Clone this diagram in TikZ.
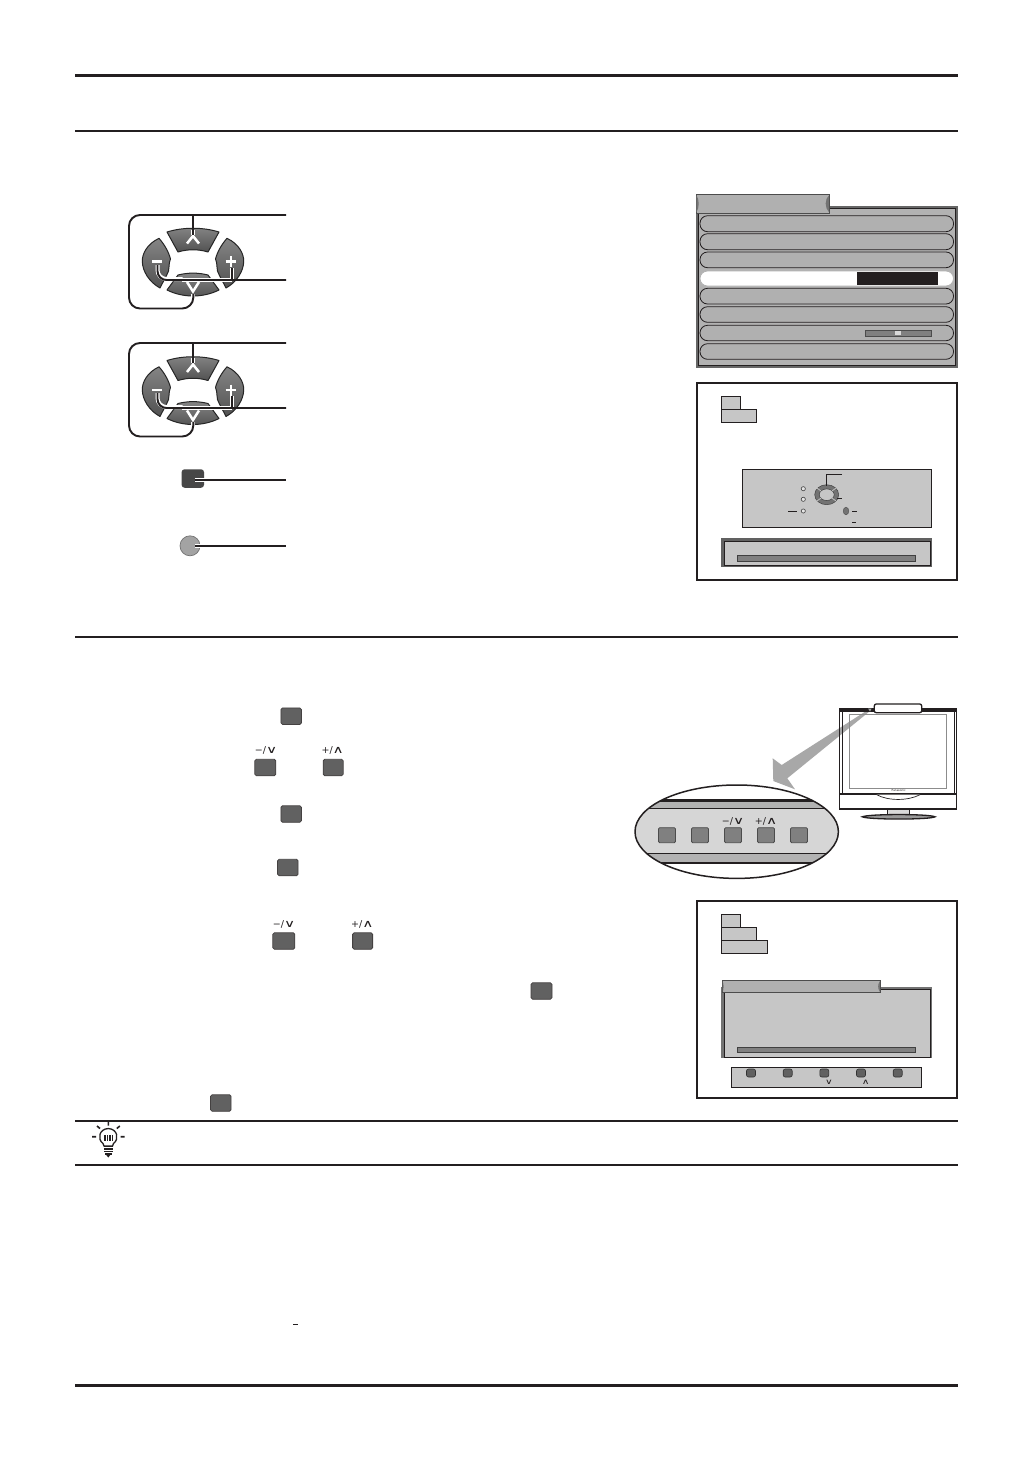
\documentclass[tikz,border=0pt]{standalone}
\usepackage{fontspec}
\usepackage{graphicx}
\setmainfont{DejaVu Sans}
\usetikzlibrary{calc}
\definecolor{inkk}{HTML}{231F20}
\definecolor{panelg}{HTML}{C6C6C6}
\definecolor{rowg}{HTML}{B0B0B0}
\definecolor{barg}{HTML}{808080}
\newcommand{\lowv}{\scalebox{1.45}[1]{\fontsize{10.5}{11}\selectfont ∨}}
\newcommand{\upv}{\scalebox{1.45}[1]{\fontsize{10.5}{11}\selectfont ∧}}
\tikzset{
  x=1pt,y=-1pt,
  rule/.style={draw=inkk,line width=2pt},
  heavyrule/.style={draw=inkk,line width=3pt},
  conn/.style={draw=inkk,line width=1.9pt,line join=round},
  halo/.style={draw=white,line width=4pt},
  pbtn/.style={rectangle,rounded corners=1.6pt,draw=inkk!85,fill=black!62,line width=.8pt,inner sep=0pt},
  gbtn/.style={rectangle,rounded corners=1.2pt,draw=black!70,fill=barg,line width=.8pt,inner sep=0pt,minimum width=17pt,minimum height=15pt},
  mbtn/.style={rectangle,rounded corners=2pt,draw=black!80,fill=black!62,line width=.6pt,inner sep=0pt,minimum width=9pt,minimum height=8pt},
  keylab/.style={inner sep=0pt,font=\fontsize{9.5}{10}\selectfont,text=inkk},
  minilab/.style={inner sep=0pt,font=\fontsize{7.5}{8}\selectfont,text=inkk},
  frame/.style={draw=inkk,line width=2pt,fill=white},
  mini/.style={draw=inkk,line width=1pt,fill=panelg},
  row/.style={draw=inkk,line width=.8pt,fill=rowg,rounded corners=7.5pt},
  padkey/.style={draw=black!85,line width=1pt,top color=black!48,bottom color=black!68,line join=round},
  padsym/.style={draw=white,line width=2.5pt},
  pics/dpad/.style={code={
    \path[padkey] (-26,-30) .. controls (-10,-35) and (10,-35) .. (26,-30) -- (15,-10) .. controls (5,-13) and (-5,-13) .. (-15,-10) -- cycle;
    \path[padkey] (-15,13) .. controls (-5,10.5) and (5,10.5) .. (15,13) -- (26,28) .. controls (10,36) and (-10,36) .. (-26,28) -- cycle;
    \path[padkey] (-34,-23.7) .. controls (-46,-18) and (-51,-8) .. (-50.7,-.5) .. controls (-50.5,9) and (-44,20) .. (-33,26) .. controls (-29,18) and (-26,13) .. (-24.5,9) .. controls (-23,5) and (-25,3) .. (-22.5,-3) .. controls (-24,-9) and (-28,-17) .. (-34,-23.7) -- cycle;
    \path[padkey] (34,-23.7) .. controls (46,-18) and (51,-8) .. (50.7,-.5) .. controls (50.5,9) and (44,20) .. (33,26) .. controls (29,18) and (26,13) .. (24.5,9) .. controls (23,5) and (25,3) .. (22.5,-3) .. controls (24,-9) and (28,-17) .. (34,-23.7) -- cycle;
    \draw[padsym] (-6,-18.5) -- (0,-26) -- (6,-18.5);
    \draw[padsym] (-6,20) -- (0,29.5) -- (6,20);
    \draw[padsym] (-41,-.5) -- (-31.5,-.5);
    \draw[padsym] (32.5,-.5) -- (43,-.5) (38,-6) -- (38,5);
  }}
}
\begin{document}
\begin{tikzpicture}[line cap=butt]
\useasboundingbox[fill=white] (0,0) rectangle (1032,1457);

% page rules
\coordinate (r1a) at (75,75);   \coordinate (r1b) at (958,75);
\coordinate (r2a) at (75,131);  \coordinate (r2b) at (958,131);
\coordinate (r3a) at (75,637);  \coordinate (r3b) at (958,637);
\coordinate (r4a) at (75,1121); \coordinate (r4b) at (958,1121);
\coordinate (r5a) at (75,1164.5); \coordinate (r5b) at (958,1164.5);
\coordinate (r6a) at (75,1385); \coordinate (r6b) at (958,1385);
\draw[heavyrule] (r1a) -- (r1b);
\draw[rule] (r2a) -- (r2b);
\draw[rule] (r3a) -- (r3b);
\draw[rule] (r4a) -- (r4b);
\draw[rule] (r5a) -- (r5b);
\draw[heavyrule] (r6a) -- (r6b);

% remote control pads
\pic (padA) at (193,262) {dpad};
\pic (padB) at (193,390.5) {dpad};

\foreach \n/\oy in {a/0,b/128}{
  \coordinate (t\n) at (286,215+\oy);
  \coordinate (j\n) at (193.3,215+\oy);
  \coordinate (u\n) at (193.3,235+\oy);
  \coordinate (d\n) at (193.3,294+\oy);
  \coordinate (m\n) at (286,280+\oy);
  \coordinate (p\n) at (232,268+\oy);
  \coordinate (q\n) at (232,280+\oy);
  \coordinate (s\n) at (157.5,265+\oy);
  \draw[halo] (u\n) -- +(0,-5);
  \draw[halo] (d\n) -- +(0,6);
  \draw[halo] (s\n) -- +(0,5) arc[start angle=180,end angle=90,radius=9] -- +(16,0);
  \draw[halo] (p\n) -- (q\n);
  \draw[halo] ($(q\n)+(-50,0)$) -- (q\n);
  \draw[conn,rounded corners=11pt] (d\n) -- ++(0,14.5) -- ++(-64.3,0) -- ++(0,-93.5) -- (t\n);
  \draw[conn] (j\n) -- (u\n);
  \draw[conn,rounded corners=9pt] (s\n) -- (157.5,280+\oy) -- (m\n);
  \draw[conn] (p\n) -- (q\n);
}
\node[rectangle,rounded corners=3pt,fill=black!72,minimum width=22.5pt,minimum height=18.5pt,inner sep=0pt] (sq) at (192.8,478.5) {};
\node[circle,fill=black!36,draw=black!55,line width=.7pt,minimum size=20pt,inner sep=0pt] (rd) at (190,545.8) {};
\coordinate (sqt) at (286,480); \coordinate (rdt) at (286,546);
\coordinate (sqs) at (194.5,480); \coordinate (rds) at (195,546);
\draw[draw=white,line width=3.8pt] (sqs) -- +(10,0);
\draw[draw=white,line width=3.8pt] (rds) -- +(6,0);
\draw[conn] (sqs) -- (sqt);
\draw[conn] (rds) -- (rdt);

% menu panel
\fill[black!60] (696,205.5) rectangle (957.5,367.5);
\draw[draw=inkk,line width=.9pt,fill=panelg!90!black] (698,208) rectangle (955.5,365);
\draw[draw=black!70,line width=.8pt,fill=rowg] (696,194.5) rectangle (829.5,213);
\fill[black!55] (696.3,195) .. controls (699.5,199) and (699.5,208) .. (696.3,212.5) -- cycle;
\fill[black!55] (829.2,195) .. controls (824.5,199) and (824.5,208) .. (829.2,212.5) -- cycle;
\draw[row] (700,215.7) rectangle (953.5,231.7);
\draw[row] (700,233.7) rectangle (953.5,249.7);
\draw[row] (700,252) rectangle (953.5,267.7);
\draw[row,fill=white,draw=black!30] (700,271) rectangle (953.5,286);
\fill[inkk] (857,272.3) rectangle (938,285);
\draw[row] (700,288.3) rectangle (953.5,304);
\draw[row] (700,306.7) rectangle (953.5,322.3);
\draw[row] (700,325.3) rectangle (953.5,340.7);
\draw[row] (700,343.7) rectangle (953.5,359.3);
\draw[draw=black!70,line width=.7pt,fill=barg] (865.3,330.5) rectangle (931.7,336.7);
\fill[black!15] (895,331.2) rectangle (901,335.2);

% panel 2
\draw[frame] (696.7,382.7) rectangle (956.7,580);
\draw[mini] (721.3,396.3) rectangle (740.7,409.3);
\draw[mini] (721.3,409.3) rectangle (756.7,422.7);
\draw[mini] (742.3,469.3) rectangle (931.7,527.3);
\foreach \y in {488.7,499.3,511}{\draw[draw=black!75,line width=.6pt,fill=black!10] (803.3,\y) circle[radius=2.1];}
\fill[black!55,even odd rule] (826.7,494.7) circle[x radius=12,y radius=10] (826.7,494.7) circle[x radius=7.5,y radius=5.8];
\draw[draw=black!75,line width=.5pt] (826.7,494.7) circle[x radius=12,y radius=10];
\draw[draw=black!75,line width=.5pt] (826.7,494.7) circle[x radius=7.5,y radius=5.8];
\draw[draw=panelg,line width=.7pt] (817,488) -- (821,491) (836,488) -- (832,491) (817,501) -- (821,498) (836,501) -- (832,498);
\coordinate (m1) at (842,474.3); \coordinate (m2) at (826.3,474.3); \coordinate (m3) at (826.3,486);
\coordinate (m4) at (837.3,498); \coordinate (m5) at (842,498);
\coordinate (m6) at (788.3,511.3); \coordinate (m7) at (796.7,511.3);
\coordinate (m8) at (852.3,511.3); \coordinate (m9) at (856.7,511.3);
\coordinate (m10) at (852,522.3); \coordinate (m11) at (856.3,522.3);
\draw[draw=inkk,line width=.8pt] (m1) -- (m2) -- (m3);
\draw[draw=inkk,line width=.8pt] (m4) -- (m5);
\draw[draw=inkk,line width=.8pt] (m6) -- (m7);
\draw[draw=inkk,line width=.8pt] (m8) -- (m9);
\draw[draw=inkk,line width=.8pt] (m10) -- (m11);
\draw[draw=black!70,line width=.4pt,fill=black!55] (846,511) circle[x radius=2.8,y radius=3.8];
\fill[black!62] (721.3,538.3) rectangle (932.3,567.3);
\draw[draw=inkk,line width=.8pt,fill=panelg] (724.3,541.3) rectangle (930,565);
\draw[draw=black!75,line width=.6pt,fill=barg] (737.3,555.3) rectangle (915.7,561.7);

% callout arrow and monitor
\fill[black!34] (869.3,709) -- (781.7,765) -- (772.7,758.3) -- (773.3,781) -- (795,789.3) -- (787.3,778.3) -- (870,711) -- cycle;
\draw[draw=inkk,line width=1.2pt] (839.5,708.5) rectangle (956.7,809);
\fill[inkk] (839.5,708) rectangle (956.7,712);
\draw[draw=inkk,line width=.7pt] (842,712) -- (842,794) (954.2,712) -- (954.2,794);
\draw[draw=black!45,line width=.8pt] (849,714) rectangle (946.7,788.3);
\draw[draw=inkk,line width=1.5pt] (839.5,794) -- (956.7,794);
\draw[draw=inkk,line width=.7pt,fill=white] (876.7,794.7) .. controls (888,801) and (908,801) .. (920,794.7);
\node[inner sep=0pt,font=\fontsize{2.8}{3}\selectfont,text=inkk] (logo) at (898.7,790.4) {Panasonic};
\draw[draw=inkk,line width=.8pt,fill=black!15] (887.3,809) rectangle (909.3,815);
\draw[draw=inkk,line width=1.3pt,fill=black!40] (862.3,816.8) .. controls (868,813.8) and (930,813.8) .. (935,816.8) .. controls (930,819.8) and (868,819.8) .. (862.3,816.8) -- cycle;
\draw[draw=inkk,line width=1.3pt,rounded corners=2pt,fill=white] (874.3,704) rectangle (921.7,712.7);
\fill[black!34] (868,708.5) -- (871.5,708.5) -- (870,711.5) -- cycle;

% magnified keys
\begin{scope}
\clip (736.7,831.7) circle[x radius=101.7,y radius=46.7];
\fill[black!16] (630,808.3) rectangle (845,853.3);
\fill[black!30] (630,801.5) rectangle (845,808.3);
\fill[black!30] (630,853.3) rectangle (845,861.5);
\fill[inkk] (630,799) rectangle (845,801.8);
\fill[inkk] (630,861.5) rectangle (845,864.2);
\draw[draw=inkk,line width=.7pt] (630,808.3) -- (845,808.3) (630,853.3) -- (845,853.3);
\end{scope}
\draw[draw=inkk,line width=1.5pt] (736.7,831.7) circle[x radius=101.7,y radius=46.7];
\node[gbtn] (k1) at (667,835.2) {};
\node[gbtn] (k2) at (700,835.2) {};
\node[gbtn] (k3) at (733,835.2) {};
\node[gbtn] (k4) at (766,835.2) {};
\node[gbtn] (k5) at (799,835.2) {};
\node[keylab] (k3l) at (733,821.5) {−/\lowv};
\node[keylab] (k4l) at (766,821.5) {+/\upv};

% inline keys
\node[pbtn,minimum width=20.5pt,minimum height=16.5pt] (s1) at (291.2,716.2) {};
\node[pbtn,minimum width=21pt,minimum height=16.5pt] (s2a) at (265.3,767.5) {};
\node[pbtn,minimum width=20pt,minimum height=16.5pt] (s2b) at (333.2,767.5) {};
\node[keylab] (s2al) at (266,750.5) {−/\lowv};
\node[keylab] (s2bl) at (332.7,750.5) {+/\upv};
\node[pbtn,minimum width=20.5pt,minimum height=16.5pt] (s3) at (291.2,814) {};
\node[pbtn,minimum width=20.5pt,minimum height=16.5pt] (s4) at (287.8,867.5) {};
\node[pbtn,minimum width=22pt,minimum height=16.5pt] (s5a) at (283.8,941) {};
\node[pbtn,minimum width=20pt,minimum height=16.5pt] (s5b) at (362.6,941) {};
\node[keylab] (s5al) at (284,924) {−/\lowv};
\node[keylab] (s5bl) at (362.3,924) {+/\upv};
\node[pbtn,minimum width=21pt,minimum height=16.5pt] (s6) at (541.5,991) {};
\node[pbtn,minimum width=20.5pt,minimum height=16.5pt] (s7) at (220.8,1103) {};

% panel 3
\draw[frame] (696.7,901) rectangle (956.7,1097.7);
\draw[mini] (721.3,914.3) rectangle (740.7,927.3);
\draw[mini] (721.3,927.3) rectangle (756.7,940.3);
\draw[mini] (721.3,940.3) rectangle (767.7,953.7);
\fill[black!55] (721.3,986.7) rectangle (931.7,1058.3);
\draw[draw=inkk,line width=.8pt,fill=panelg] (724.3,989) rectangle (930,1057);
\draw[draw=black!70,line width=.8pt,fill=rowg] (722.3,980.3) rectangle (880,992.7);
\fill[black!55] (722.5,981) .. controls (724,984) and (724,989) .. (722.5,992) -- cycle;
\fill[black!55] (880,981) .. controls (877.5,984) and (877.5,989) .. (880,992) -- cycle;
\draw[draw=black!75,line width=.6pt,fill=barg] (737.3,1047.3) rectangle (915.7,1052.7);
\draw[mini] (731.3,1067.3) rectangle (921.7,1087.7);
\node[mbtn] (b1) at (751,1073) {};
\node[mbtn] (b2) at (787.7,1073) {};
\node[mbtn] (b3) at (824.3,1073) {};
\node[mbtn] (b4) at (861,1073) {};
\node[mbtn] (b5) at (897.7,1073) {};
\node[minilab] (b3l) at (829,1082.5) {\scalebox{1.4}[1]{∨}};
\node[minilab] (b4l) at (865.7,1082.5) {\scalebox{1.4}[1]{∧}};

% hint bulb
\draw[draw=inkk,line width=1.3pt,fill=white] (103,1143.5) .. controls (97,1139) and (99,1129) .. (108.3,1128.5) .. controls (117.5,1129) and (119.5,1139) .. (113.5,1143.5) -- (112.5,1146) -- (104,1146) -- cycle;
\fill[inkk] (103.5,1134.5) rectangle (113.2,1140.5);
\draw[draw=white,line width=.5pt] (106,1134) -- (106,1140.5) (108.5,1134) -- (108.5,1140.5) (111,1134) -- (111,1140.5);
\draw[draw=inkk,line width=1.6pt] (104,1146.5) -- (112.7,1146.5) (104.2,1149) -- (112.5,1149) (104.2,1151.5) -- (112.5,1151.5) (105,1154) -- (111.7,1154);
\fill[inkk] (105.5,1154) -- (111,1154) -- (108.3,1157.5) -- cycle;
\draw[draw=inkk,line width=1.6pt] (108.3,1122) -- (108.3,1125.5) (97,1126) -- (100,1128.5) (119.8,1126) -- (116.8,1128.5) (92,1136.7) -- (96,1136.7) (120.5,1136.7) -- (124.5,1136.7);

% stray dash
\draw[draw=inkk,line width=1.2pt] (293,1324.3) -- (298,1324.3);
\end{tikzpicture}
\end{document}
